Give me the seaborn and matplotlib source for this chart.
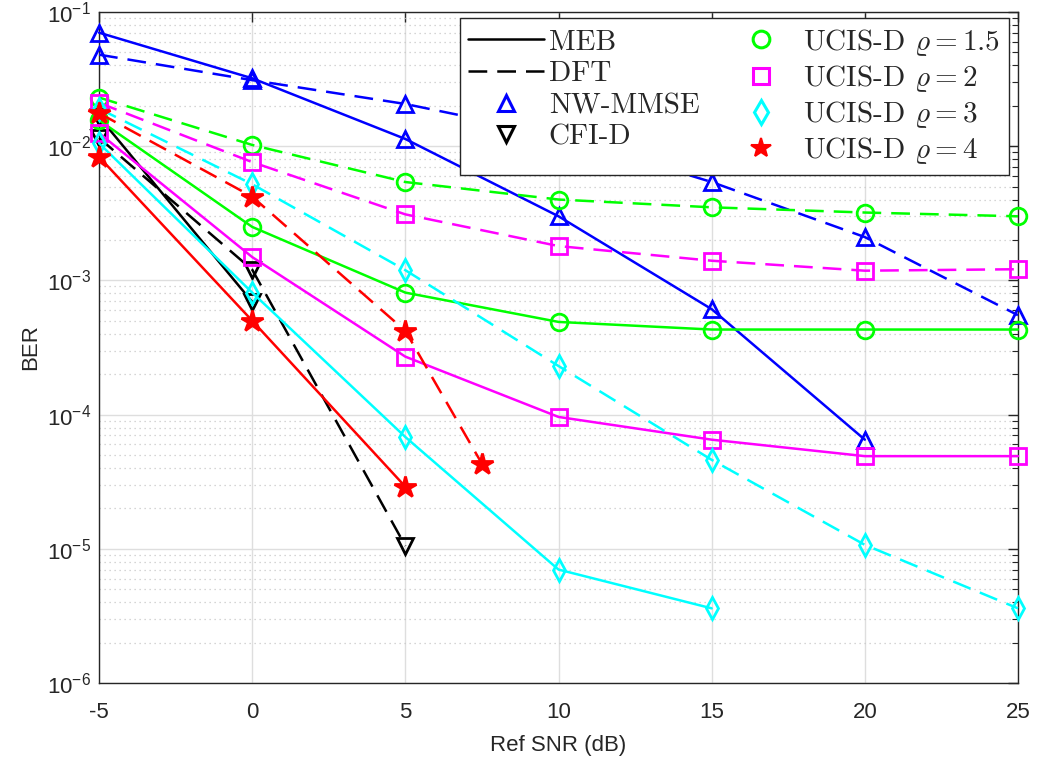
"""
BER vs reference SNR for the MEB / DFT receivers (NW-MMSE, CFI-D, UCIS-D).
Values were read off the published figure, so they are approximate.
"""

import matplotlib
matplotlib.use("Agg")

import matplotlib.pyplot as plt
import numpy as np
import pandas as pd
import seaborn as sns
from matplotlib.lines import Line2D
from matplotlib.ticker import FixedLocator, FuncFormatter, LogLocator, NullFormatter, NullLocator

# ---- data ----
snr_full = [-5, 0, 5, 10, 15, 20, 25]

nw_mmse_meb = [0.070, 0.032, 0.0113, 0.0030, 6.1e-4, 6.5e-5]      # up to 20 dB
nw_mmse_dft = [0.048, 0.031, 0.0206, 0.0120, 0.0054, 0.0021, 5.5e-4]

cfi_meb = [0.0165, 6.9e-4]                                         # -5, 0 dB
cfi_dft = [0.0115, 1.2e-3, 1.05e-5]                                # -5 .. 5 dB

ucis15_meb = [0.0156, 0.0025, 8.1e-4, 4.9e-4, 4.3e-4, 4.3e-4, 4.3e-4]
ucis15_dft = [0.023, 0.0102, 0.0054, 0.0040, 0.0035, 0.0032, 0.0030]

ucis2_meb = [0.0125, 1.49e-3, 2.7e-4, 9.6e-5, 6.5e-5, 4.9e-5, 4.9e-5]
ucis2_dft = [0.021, 0.0076, 0.0031, 0.0018, 0.0014, 0.00118, 0.00121]

ucis3_meb = [0.0105, 8.1e-4, 6.8e-5, 7.0e-6, 3.6e-6]               # up to 15 dB
ucis3_dft = [0.019, 0.0052, 1.19e-3, 2.3e-4, 4.6e-5, 1.07e-5, 3.6e-6]

ucis4_meb = [0.0083, 5.0e-4, 2.9e-5]                               # -5 .. 5 dB
snr_ucis4_dft = [-5, 0, 5, 7.5]
ucis4_dft = [0.0176, 0.0042, 4.2e-4, 4.3e-5]

DASH = (0, (7.5, 4))

# (x, y, color, marker, linestyle, filled)
SERIES = [
    (snr_full[:6], nw_mmse_meb, "#0000ff", "^", "-", False),
    (snr_full, nw_mmse_dft, "#0000ff", "^", DASH, False),
    (snr_full[:2], cfi_meb, "black", "v", "-", False),
    (snr_full[:3], cfi_dft, "black", "v", DASH, False),
    (snr_full, ucis15_meb, "#00ff00", "o", "-", False),
    (snr_full, ucis15_dft, "#00ff00", "o", DASH, False),
    (snr_full, ucis2_meb, "#ff00ff", "s", "-", False),
    (snr_full, ucis2_dft, "#ff00ff", "s", DASH, False),
    (snr_full[:5], ucis3_meb, "#00ffff", "d", "-", False),
    (snr_full, ucis3_dft, "#00ffff", "d", DASH, False),
    (snr_full[:3], ucis4_meb, "#ff0000", "*", "-", True),
    (snr_ucis4_dft, ucis4_dft, "#ff0000", "*", DASH, True),
]

sns.set_theme(style="white")
plt.rcParams["font.family"] = ["Liberation Sans", "DejaVu Sans"]
plt.rcParams["mathtext.fontset"] = "cm"

fig = plt.figure(figsize=(10.43, 7.67), dpi=100)
ax = fig.add_axes([0.095, 0.1095, 0.881, 0.875])

for x, y, color, marker, ls, filled in SERIES:
    df = pd.DataFrame({"snr": x, "ber": y})
    ms = 16 if marker == "*" else (11 if marker == "d" else 12)
    sns.lineplot(data=df, x="snr", y="ber", ax=ax, color=color, lw=1.8,
                 linestyle=ls, marker=marker, markersize=ms, markeredgewidth=2,
                 markeredgecolor=color,
                 markerfacecolor=color if filled else "none",
                 legend=False, zorder=3, clip_on=False)

ax.set_yscale("log")
ax.set_xlim(-5, 25)
ax.set_ylim(1e-6, 1e-1)
ax.xaxis.set_major_locator(FixedLocator(snr_full))
ax.xaxis.set_minor_locator(NullLocator())
ax.yaxis.set_major_locator(LogLocator(base=10, numticks=10))
ax.yaxis.set_minor_locator(LogLocator(base=10, subs=np.arange(2, 10), numticks=20))
ax.yaxis.set_major_formatter(FuncFormatter(
    lambda v, p: r"$\mathregular{10^{%d}}$" % int(round(np.log10(v)))))
ax.yaxis.set_minor_formatter(NullFormatter())
ax.xaxis.set_major_formatter(FuncFormatter(lambda v, p: f"{v:g}"))

ax.grid(True, which="major", color="#dedede", lw=1.0, zorder=0)
ax.grid(True, which="minor", axis="y", color="#c8c8c8", lw=0.9,
        linestyle=(0, (1, 3)), zorder=0)
ax.tick_params(which="both", direction="in", top=True, right=True,
               labelsize=16, colors="#262626")
ax.tick_params(which="major", length=7, width=1)
ax.tick_params(which="minor", length=4, width=0.8)
ax.tick_params(axis="x", which="major", pad=14)
ax.tick_params(axis="y", which="major", pad=6)
for sp in ax.spines.values():
    sp.set_color("#262626")
    sp.set_linewidth(1.0)

ax.set_xlabel("Ref SNR (dB)", fontsize=16, color="#262626", labelpad=8)
ax.set_ylabel("BER", fontsize=16, color="#262626", labelpad=4)

# ---- legend: line styles for the receivers, markers for the estimators ----
mk = dict(markersize=12, markeredgewidth=2.2, linestyle="none")
handles = [
    Line2D([], [], color="black", lw=1.8),
    Line2D([], [], color="black", lw=1.8, linestyle=DASH),
    Line2D([], [], color="#0000ff", marker="^", markerfacecolor="none", **mk),
    Line2D([], [], color="black", marker="v", markerfacecolor="none", **mk),
    Line2D([], [], color="#00ff00", marker="o", markerfacecolor="none", **mk),
    Line2D([], [], color="#ff00ff", marker="s", markerfacecolor="none", **mk),
    Line2D([], [], color="#00ffff", marker="d", markerfacecolor="none", **mk),
    Line2D([], [], color="#ff0000", marker="*", markerfacecolor="#ff0000",
           markersize=15, markeredgewidth=1.5, linestyle="none"),
]
labels = [
    "MEB", "DFT", "NW-MMSE", "CFI-D",
    r"UCIS-D $\varrho = 1.5$", r"UCIS-D $\varrho = 2$",
    r"UCIS-D $\varrho = 3$", r"UCIS-D $\varrho = 4$",
]
leg = ax.legend(handles, labels, ncol=2, loc="upper right",
                bbox_to_anchor=(0.99, 0.991), borderaxespad=0,
                prop={"family": "cmr10", "size": 21},
                handlelength=2.6, handletextpad=0.15, columnspacing=0.8,
                labelspacing=0.18, borderpad=0.3, frameon=True, fancybox=False,
                framealpha=1)
leg.get_frame().set_edgecolor("#262626")
leg.get_frame().set_linewidth(1.0)
leg.set_zorder(5)

fig.savefig("out.png", dpi=100)
plt.close(fig)
